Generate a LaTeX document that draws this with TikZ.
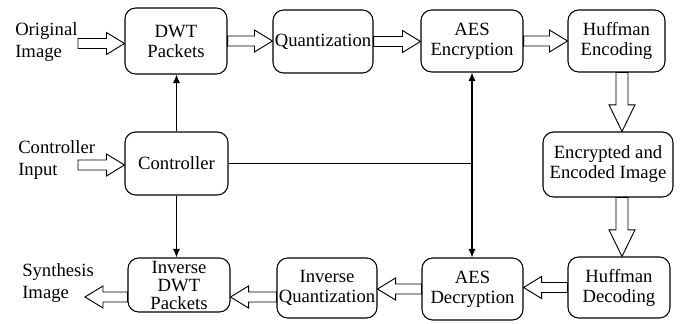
\documentclass[tikz,border=0pt]{standalone}
\usepackage{fontspec}
\setmainfont{Liberation Serif}
\usetikzlibrary{calc,arrows.meta}
% hollow block arrow: start, end, shaft half-width, head half-width, head length
\newcommand\fatarrow[5]{%
  \path #1 coordinate (fa-s) #2 coordinate (fa-e);
  \path ($(fa-e)!#5!(fa-s)$) coordinate (fa-h);
  \draw[fatline] ($(fa-s)!#3!90:(fa-e)$) -- ($(fa-h)!#3!90:(fa-e)$) --
    ($(fa-h)!#4!90:(fa-e)$) -- (fa-e) -- ($(fa-h)!#4!-90:(fa-e)$) --
    ($(fa-h)!#3!-90:(fa-e)$) -- ($(fa-s)!#3!-90:(fa-e)$) -- cycle;}
\newcommand\hfat[2]{\fatarrow{#1}{#2}{3.75pt}{8.25pt}{13.5pt}}
\newcommand\vfat[2]{\fatarrow{#1}{#2}{4.5pt}{9.75pt}{20pt}}
\begin{document}
\begin{tikzpicture}[x=0.75pt,y=-0.75pt,
  box/.style={draw, rounded corners=8pt, line width=0.8pt, align=center, inner sep=0pt,
    font=\fontsize{14}{15}\selectfont},
  sz/.style 2 args={minimum width=#1*0.75pt, minimum height=#2*0.75pt},
  lbl/.style={align=left, inner sep=0pt, anchor=west, font=\fontsize{14}{16.5}\selectfont},
  fatline/.style={draw, line width=0.7pt, fill=white, line join=miter},
  ctl/.style={line width=0.8pt},
  ctla/.style={line width=0.8pt, -{Latex[length=6.5pt,width=5.5pt]}}]
\useasboundingbox[fill=white] (0,0) rectangle (683,324);

% boxes
\node[box, sz={102}{66}] (dwt) at (176,41) {DWT\\Packets};
\node[box, sz={100}{63}] (quant) at (323,41.5) {Quantization};
\node[box, sz={102}{62}] (aesE) at (472,41) {AES\\Encryption};
\node[box, sz={97}{62}] (hufE) at (616.5,41) {Huffman\\Encoding};
\node[box, sz={130}{65}] (enc) at (608,164.5) {Encrypted and\\Encoded Image};
\node[box, sz={102}{61}] (hufD) at (619,287.5) {Huffman\\Decoding};
\node[box, sz={101}{62}] (aesD) at (472.5,289) {AES\\Decryption};
\node[box, sz={100}{60}] (iq) at (327,288) {Inverse\\Quantization};
\node[box, sz={102}{54}, font=\fontsize{14}{13.5}\selectfont] (idwt) at (179,285) {Inverse\\DWT\\Packets};
\node[box, sz={103}{63}] (ctrl) at (176.5,163.5) {Controller};

% labels
\node[lbl] (orig) at (15,42) {Original\\Image};
\node[lbl] (cin) at (18,160) {Controller\\Input};
\node[lbl] (synth) at (22,283) {Synthesis\\Image};

% free ends
\coordinate (origA) at (78,43.5);
\coordinate (cinA) at (78,165);
\coordinate (synA) at (85,297);

% hollow arrows
\hfat{(origA)}{(origA -| dwt.west)}
\hfat{(cinA)}{(cinA -| ctrl.west)}
\hfat{(dwt.east)}{(quant.west |- dwt.east)}
\hfat{(quant.east)}{(aesE.west |- quant.east)}
\hfat{(aesE.east)}{(hufE.west |- aesE.east)}
\coordinate (vx) at ($(hufE.south)+(5.5,0)$);
\vfat{(vx)}{(vx |- enc.north)}
\vfat{(vx |- enc.south)}{(vx |- hufD.north)}
\hfat{(hufD.west)}{(aesD.east |- hufD.west)}
\hfat{(aesD.west)}{(iq.east |- aesD.west)}
\coordinate (iqa) at ($(iq.west)+(0,9)$);
\hfat{(iqa)}{(iqa -| idwt.east)}
\hfat{(synA -| idwt.west)}{(synA)}

% control lines
\draw[ctla] (ctrl.north) -- (ctrl.north |- dwt.south);
\draw[ctla] (ctrl.south) -- (ctrl.south |- idwt.north);
\draw[ctl] (ctrl.east) -- (ctrl.east -| aesE.south);
\draw[ctla, {Latex[length=6.5pt,width=5.5pt]}-{Latex[length=6.5pt,width=5.5pt]}] (aesE.south) -- (aesE.south |- aesD.north);
\end{tikzpicture}
\end{document}
